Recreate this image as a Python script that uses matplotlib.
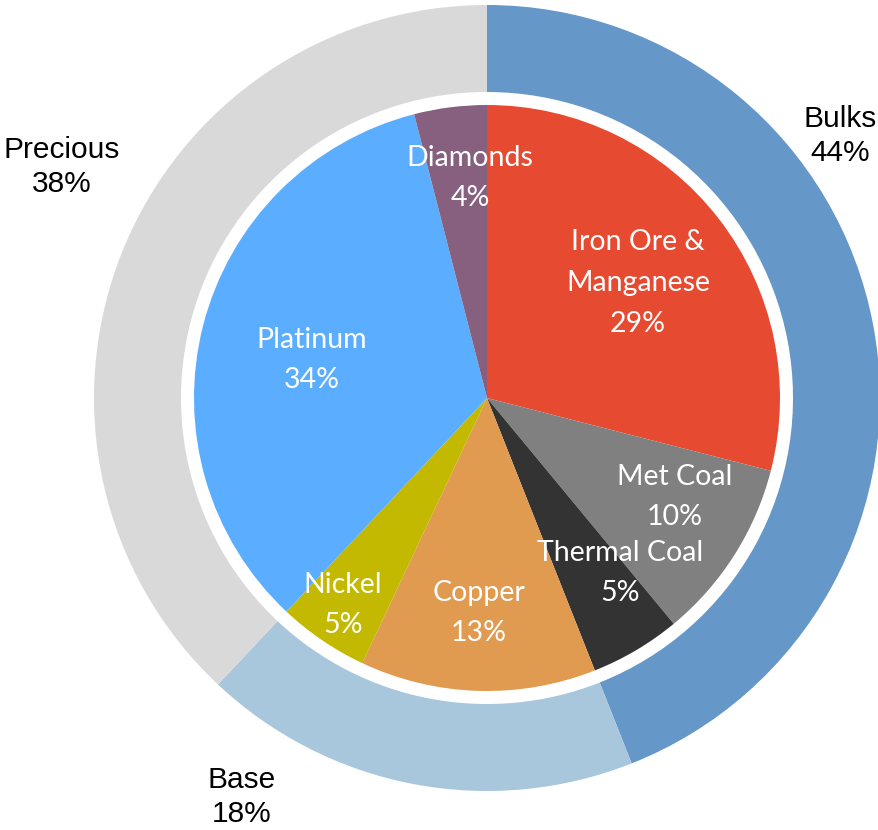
import matplotlib
matplotlib.use('Agg')
import matplotlib.pyplot as plt

# Outer ring: commodity groups
groups = ['Bulks', 'Base', 'Precious']
group_share = [44, 18, 38]
group_colors = ['#6597C8', '#A9C7DC', '#D9D9D9']

# Inner pie: individual commodities
commodities = ['Iron Ore &\nManganese', 'Met Coal', 'Thermal Coal', 'Copper',
               'Nickel', 'Platinum', 'Diamonds']
commodity_share = [29, 10, 5, 13, 5, 34, 4]
commodity_colors = ['#E64B32', '#808080', '#333333', '#E09B50',
                    '#C2B900', '#5BAEFF', '#86607E']

W, H = 879, 830
cx, cy = 487, H - 398
r_outer, ring_w, r_inner = 393, 87, 293

fig = plt.figure(figsize=(W / 100, H / 100), dpi=100)
ax = fig.add_axes([0, 0, 1, 1])

ax.pie(group_share, colors=group_colors, startangle=90, counterclock=False,
       radius=r_outer, center=(cx, cy),
       wedgeprops=dict(width=ring_w, linewidth=0))
ax.pie(commodity_share, colors=commodity_colors, startangle=90, counterclock=False,
       radius=r_inner, center=(cx, cy),
       wedgeprops=dict(linewidth=0))

# pie() resets the limits, so set them afterwards in pixel units
ax.set_xlim(0, W)
ax.set_ylim(0, H)
ax.set_aspect('equal')
ax.axis('off')

# label offsets from the centre, in pixels
inner_pos = [(151, 115), (188, -99), (133, -175), (-8, -215),
             (-144, -207), (-175, 38), (-17, 220)]
for name, val, (dx, dy) in zip(commodities, commodity_share, inner_pos):
    ax.text(cx + dx, cy + dy, '{}\n{}%'.format(name, val), color='white',
            ha='center', va='center', fontsize=20.5, family='Lato',
            linespacing=1.7)

outer_pos = [(840, H - 136), (242, H - 797), (62, H - 167)]
for name, val, (x, y) in zip(groups, group_share, outer_pos):
    ax.text(x, y, '{}\n{}%'.format(name, val), color='black',
            ha='center', va='center', fontsize=21.5, family='Liberation Sans',
            linespacing=1.26)

plt.savefig('out.png', dpi=100)
